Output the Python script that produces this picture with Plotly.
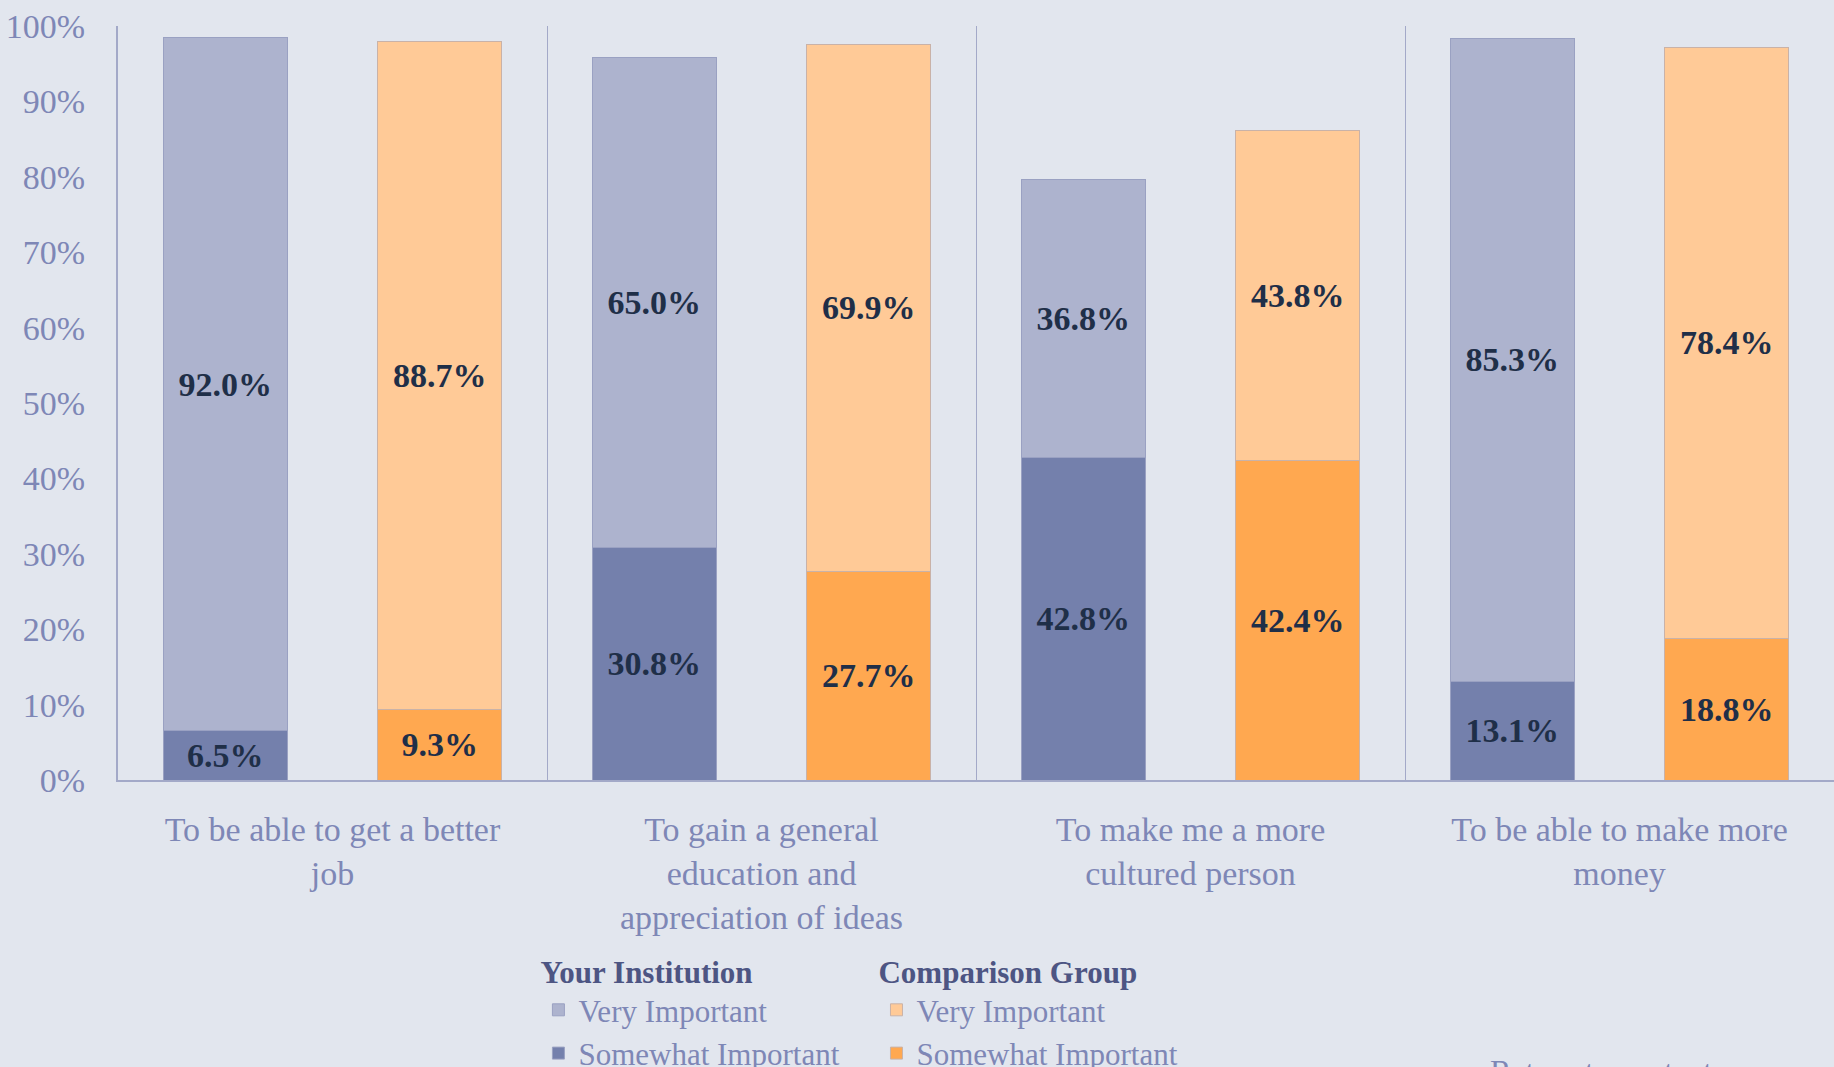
import plotly.graph_objects as go

categories = [
    "To be able to get a better<br>job",
    "To gain a general<br>education and<br>appreciation of ideas",
    "To make me a more<br>cultured person",
    "To be able to make more<br>money",
]
inst_somewhat = [6.5, 30.8, 42.8, 13.1]
inst_very = [92.0, 65.0, 36.8, 85.3]
comp_somewhat = [9.3, 27.7, 42.4, 18.8]
comp_very = [88.7, 69.9, 43.8, 78.4]
y_ticks = [0, 10, 20, 30, 40, 50, 60, 70, 80, 90, 100]
y_tick_text = [f"{v}%" for v in y_ticks]

BG = "#E2E6EE"
FONT = "Liberation Serif"
TICK_COL = "#7E87B6"
LABEL_COL = "#1F2F48"

idx = list(range(len(categories)))
x_inst = [i - 0.25 for i in idx]
x_comp = [i + 0.25 for i in idx]

def bar(x, y, name, color, line, legend, rank):
    return go.Bar(
        x=x, y=y, name=name, width=0.29,
        marker=dict(color=color, line=dict(color=line, width=1)),
        texttemplate="%{y:.1f}%", textposition="inside", insidetextanchor="middle",
        textangle=0, constraintext="none",
        textfont=dict(family=FONT, size=34, color=LABEL_COL, weight="bold"),
        legend=legend, legendrank=rank, hoverinfo="skip",
    )

fig = go.Figure()
fig.add_trace(bar(x_inst, inst_somewhat, "Somewhat Important", "#7480AC", "#9AA1C2", "legend", 2))
fig.add_trace(bar(x_inst, inst_very, "Very Important", "#ADB3CE", "#9AA1C2", "legend", 1))
fig.add_trace(bar(x_comp, comp_somewhat, "Somewhat Important", "#FFA850", "#C9B2A8", "legend2", 2))
fig.add_trace(bar(x_comp, comp_very, "Very Important", "#FFCA97", "#C9B2A8", "legend2", 1))

legend_common = dict(
    orientation="v", xanchor="left", yanchor="top", traceorder="normal",
    bgcolor="rgba(0,0,0,0)", font=dict(family=FONT, size=31, color=TICK_COL),
    tracegroupgap=0, itemclick=False, itemdoubleclick=False,
)

fig.update_layout(
    barmode="stack",
    width=1834, height=1067,
    paper_bgcolor=BG, plot_bgcolor=BG,
    margin=dict(l=118, r=0, t=26, b=287, autoexpand=False),
    font=dict(family=FONT, size=34, color=TICK_COL),
    showlegend=True,
    legend=dict(x=0.245, y=-0.216,
                title=dict(text="Your Institution", side="top",
                           font=dict(family=FONT, size=31, color="#4D5583", weight="bold")),
                **legend_common),
    legend2=dict(x=0.442, y=-0.216,
                 title=dict(text="Comparison Group", side="top",
                            font=dict(family=FONT, size=31, color="#4D5583", weight="bold")),
                 **legend_common),
    xaxis=dict(
        range=[-0.5, 3.5], tickmode="array", tickvals=idx, ticktext=categories,
        showline=True, linecolor="#A3A9C8", linewidth=2,
        showgrid=False, zeroline=False, automargin=False,
        ticks="outside", ticklen=18, tickcolor="rgba(0,0,0,0)",
        tickfont=dict(family=FONT, size=34, color=TICK_COL),
        minor=dict(tickmode="linear", tick0=0.5, dtick=1, showgrid=True,
                   gridcolor="#A3A9C8", gridwidth=1, ticks=""),
        fixedrange=True,
    ),
    yaxis=dict(
        range=[0, 100], tickmode="array", tickvals=y_ticks, ticktext=y_tick_text,
        showline=True, linecolor="#A3A9C8", linewidth=2,
        showgrid=False, zeroline=False, automargin=False,
        ticks="outside", ticklen=24, tickcolor="rgba(0,0,0,0)",
        tickfont=dict(family=FONT, size=34, color=TICK_COL),
        fixedrange=True,
    ),
    annotations=[
        dict(text="Return to contents", xref="paper", yref="paper",
             x=0.868, y=-0.360, xanchor="center", yanchor="top", showarrow=False,
             font=dict(family=FONT, size=32, color=TICK_COL)),
    ],
)

fig.write_html(
    "out.html",
    config={"displayModeBar": False},
    post_script="document.body.style.margin='0';document.body.style.overflow='hidden';",
)
